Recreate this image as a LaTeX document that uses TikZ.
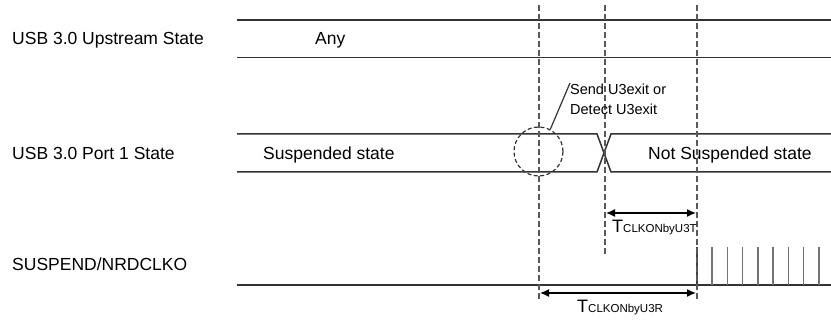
\documentclass[tikz,border=0pt]{standalone}
\usepackage{fontspec}
\setmainfont{Liberation Sans}
\usetikzlibrary{arrows.meta}
\begin{document}
\begin{tikzpicture}[x=1pt,y=-1pt,
  sig/.style={draw=black!80,line width=1.5pt},
  guide/.style={draw=black!65,line width=1.4pt,dash pattern=on 6pt off 3pt},
  pulse/.style={draw=black!55,line width=1.5pt},
  lbl/.style={font=\fontsize{17.5}{20}\selectfont,anchor=base west,inner sep=0pt},
  note/.style={font=\fontsize{14.5}{17}\selectfont,anchor=base west,inner sep=0pt},
  meas/.style={draw=black,line width=1.3pt,{Latex[length=9pt,width=8pt]}-{Latex[length=9pt,width=8pt]}},
  tlbl/.style={font=\fontsize{18}{20}\selectfont,anchor=base west,inner sep=0pt}]
\useasboundingbox (0,0) rectangle (831,320);
% left labels
\node[lbl] (l1) at (12,45) {USB 3.0 Upstream State};
\node[lbl] (l2) at (12,160) {USB 3.0 Port 1 State};
\node[lbl] (l3) at (12,271) {SUSPEND/NRDCLKO};
% upstream state
\draw[sig] (237,20) -- (831,20);
\draw[sig] (237,57.5) -- (831,57.5);
\node[lbl] (any) at (315,45) {Any};
% port 1 state
\coordinate (p1a) at (237,134);
\coordinate (p1b) at (237,172);
\draw[sig] (p1a) -- (597,134) -- (611,172) -- (831,172);
\draw[sig] (p1b) -- (597,172) -- (611,134) -- (831,134);
\node[lbl] (susp) at (263,160) {Suspended state};
\node[lbl] (nsusp) at (648,160) {Not Suspended state};
% suspend/nrdclko
\draw[sig] (237,285) -- (831,285);
\draw[draw=black!75,line width=1.5pt] (697,247) -- (697,285);
\foreach \x in {712,727.3,742.6,757.9,773.1,788.4,803.7,819}
  \draw[pulse] (\x,247) -- (\x,285);
% guides
\coordinate (g1t) at (539,5); \coordinate (g1b) at (539,300);
\coordinate (g2t) at (605,5); \coordinate (g2b) at (605,256);
\coordinate (g3t) at (697,5); \coordinate (g3b) at (697,300);
\draw[guide] (g1t) -- (g1b);
\draw[guide] (g2t) -- (g2b);
\draw[guide] (g3t) -- (g3b);
% circle and note
\node[draw=black!80,line width=1.2pt,dash pattern=on 4pt off 2.5pt,circle,minimum size=49pt,inner sep=0pt] (circ) at (538.5,151.5) {};
\node[note] (n1) at (570,95) {Send U3exit or};
\node[note] (n2) at (570,115) {Detect U3exit};
\draw[draw=black!80,line width=1.2pt] (circ.62) -- (570,83);
% measurements
\coordinate (m1a) at (606,213); \coordinate (m1b) at (696,213);
\draw[meas] (m1a) -- (m1b);
\node[tlbl] (t1) at (612,233) {T\fontsize{11.5}{11}\selectfont CLKONbyU3T};
\coordinate (m2a) at (540,293); \coordinate (m2b) at (696,293);
\draw[meas] (m2a) -- (m2b);
\node[tlbl] (t2) at (577,313) {T\fontsize{11.5}{11}\selectfont CLKONbyU3R};
\end{tikzpicture}
\end{document}
